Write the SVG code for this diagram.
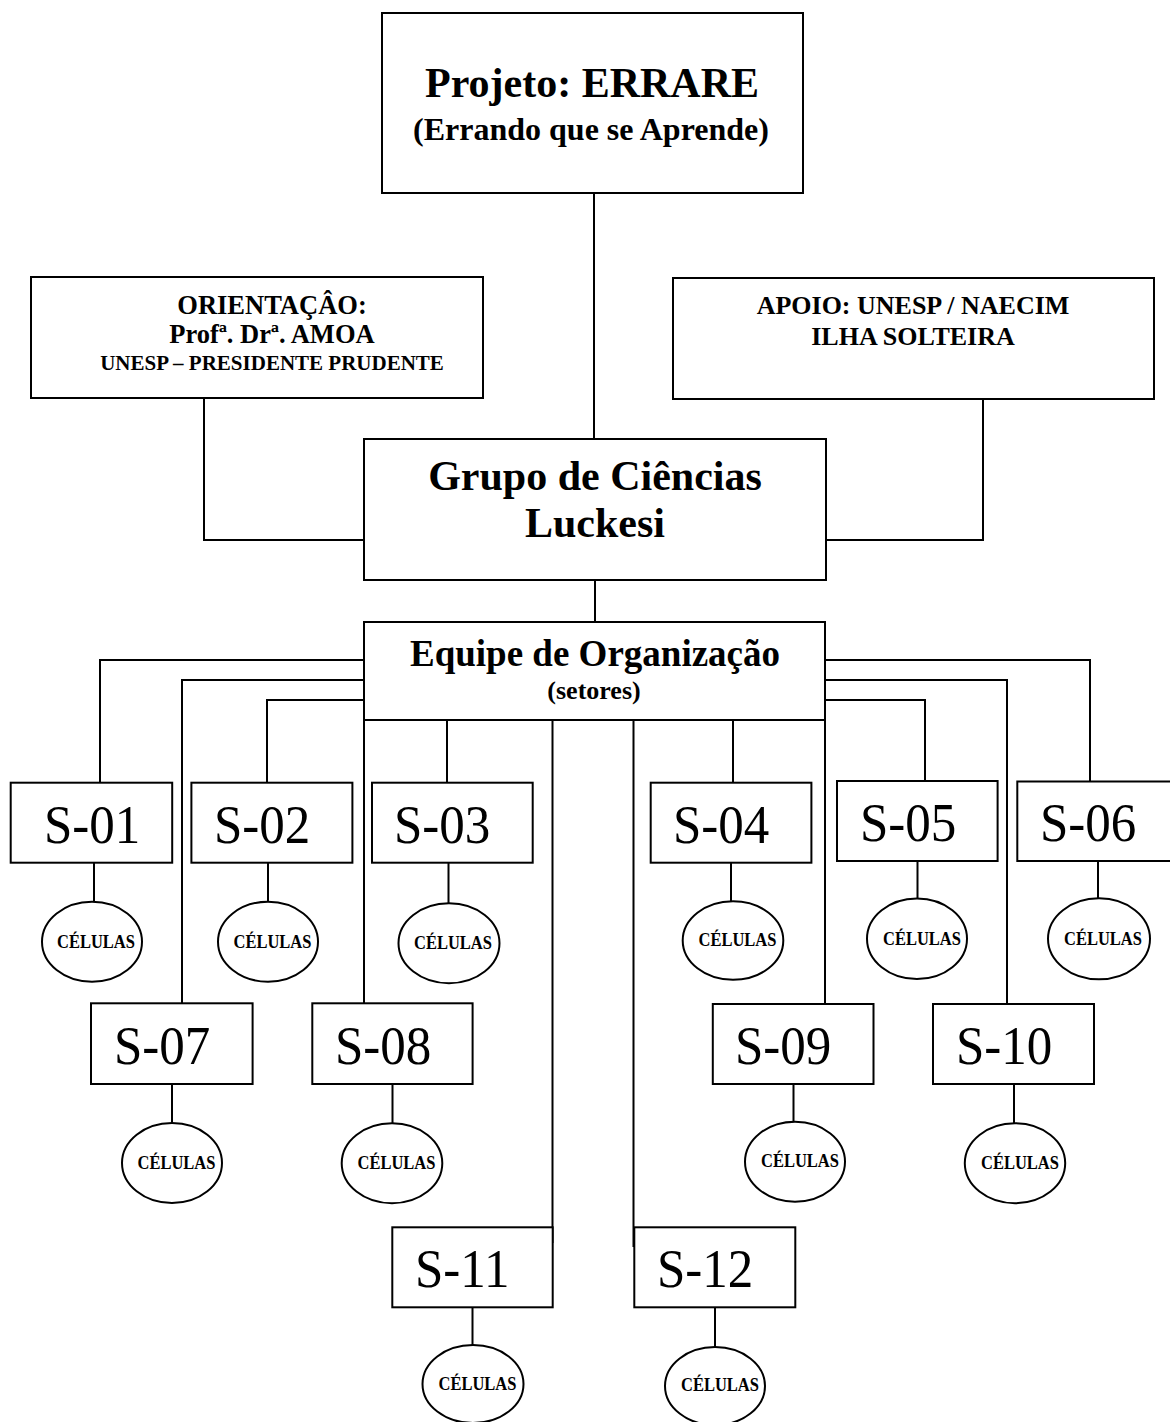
<svg xmlns="http://www.w3.org/2000/svg" width="1170" height="1422" viewBox="0 0 1170 1422">
<style>
.box{fill:#fff;stroke:#000;stroke-width:2}
.ell{fill:#fff;stroke:#000;stroke-width:2}
.ln{fill:none;stroke:#000;stroke-width:2}
.b{font-family:"Liberation Serif","Times New Roman",serif;font-weight:bold;fill:#000;text-anchor:middle}
.s{font-family:"Liberation Serif","Times New Roman",serif;font-size:51px;fill:#000}
.c{font-family:"Liberation Serif","Times New Roman",serif;font-weight:bold;font-size:16.5px;fill:#000;text-anchor:middle}
</style>
<rect width="1170" height="1422" fill="#fff"/>
<g id="connectors">
<path class="ln" d="M594,193 V439"/>
<path class="ln" d="M204,398 V540 H364"/>
<path class="ln" d="M983,399 V540 H826"/>
<path class="ln" d="M595,580 V622"/>
<path class="ln" d="M364,660 H100 V782"/>
<path class="ln" d="M364,680 H182 V1003"/>
<path class="ln" d="M367,700 H267 V782"/>
<path class="ln" d="M364,720 V1003"/>
<path class="ln" d="M447,720 V782"/>
<path class="ln" d="M552.5,720 V1243"/>
<path class="ln" d="M633.5,720 V1247"/>
<path class="ln" d="M733,720 V782"/>
<path class="ln" d="M825,720 V1004"/>
<path class="ln" d="M825,700 H925 V782"/>
<path class="ln" d="M825,680 H1007 V1004"/>
<path class="ln" d="M825,660 H1090 V782"/>
<path class="ln" d="M94,862 V902"/>
<path class="ln" d="M268,862 V902"/>
<path class="ln" d="M448.5,862 V903"/>
<path class="ln" d="M731,862 V901"/>
<path class="ln" d="M917.5,861 V899"/>
<path class="ln" d="M1098,861 V899"/>
<path class="ln" d="M172,1084 V1123"/>
<path class="ln" d="M392.5,1084 V1123"/>
<path class="ln" d="M793.5,1084 V1122"/>
<path class="ln" d="M1014,1084 V1123"/>
<path class="ln" d="M472.5,1307 V1345"/>
<path class="ln" d="M715,1307 V1347"/>
</g>
<g id="projeto">
<rect class="box" x="382" y="13" width="421" height="180"/>
<text class="b" x="592" y="97" font-size="42">Projeto: ERRARE</text>
<text class="b" x="591" y="139.5" font-size="32">(Errando que se Aprende)</text>
</g>
<g id="orientacao">
<rect class="box" x="31" y="277" width="452" height="121"/>
<text class="b" x="272" y="314" font-size="26.5">ORIENTAÇÂO:</text>
<text class="b" x="272" y="343" font-size="26.5">Profª. Drª. AMOA</text>
<text class="b" x="272" y="370" font-size="21">UNESP – PRESIDENTE PRUDENTE</text>
</g>
<g id="apoio">
<rect class="box" x="673" y="278" width="481" height="121"/>
<text class="b" x="913" y="314" font-size="26">APOIO: UNESP / NAECIM</text>
<text class="b" x="913" y="345" font-size="26">ILHA SOLTEIRA</text>
</g>
<g id="grupo">
<rect class="box" x="364" y="439" width="462" height="141"/>
<text class="b" x="595" y="490" font-size="42">Grupo de Ciências</text>
<text class="b" x="595" y="537" font-size="42">Luckesi</text>
</g>
<g id="equipe">
<rect class="box" x="364" y="622" width="461" height="98"/>
<text class="b" x="595" y="666" font-size="37">Equipe de Organização</text>
<text class="b" x="594" y="699" font-size="26">(setores)</text>
</g>
<g id="s01"><rect class="box" x="10.7" y="782.7" width="161.5" height="80"/><text class="s" transform="translate(44,843) scale(1,1.07)">S-01</text></g>
<g id="s02"><rect class="box" x="191.4" y="782.7" width="161" height="80"/><text class="s" transform="translate(214,843) scale(1,1.07)">S-02</text></g>
<g id="s03"><rect class="box" x="372" y="782.7" width="160.7" height="80"/><text class="s" transform="translate(394,843) scale(1,1.07)">S-03</text></g>
<g id="s04"><rect class="box" x="650.7" y="782.7" width="160.7" height="80"/><text class="s" transform="translate(673,843) scale(1,1.07)">S-04</text></g>
<g id="s05"><rect class="box" x="837" y="781" width="160.6" height="80"/><text class="s" transform="translate(860,841) scale(1,1.07)">S-05</text></g>
<g id="s06"><rect class="box" x="1017.3" y="781.5" width="161" height="79.5"/><text class="s" transform="translate(1040,841) scale(1,1.07)">S-06</text></g>
<g id="s07"><rect class="box" x="91" y="1003.3" width="161.6" height="80.7"/><text class="s" transform="translate(114,1064) scale(1,1.07)">S-07</text></g>
<g id="s08"><rect class="box" x="312.3" y="1003.3" width="160.3" height="80.7"/><text class="s" transform="translate(335,1064) scale(1,1.07)">S-08</text></g>
<g id="s09"><rect class="box" x="712.8" y="1004" width="160.7" height="80"/><text class="s" transform="translate(735,1064) scale(1,1.07)">S-09</text></g>
<g id="s10"><rect class="box" x="933" y="1004" width="161" height="80"/><text class="s" transform="translate(956,1064) scale(1,1.07)">S-10</text></g>
<g id="s11"><rect class="box" x="392.3" y="1227.3" width="160.4" height="80"/><text class="s" transform="translate(415,1287) scale(1,1.07)">S-11</text></g>
<g id="s12"><rect class="box" x="634.3" y="1227.3" width="161" height="80"/><text class="s" transform="translate(657,1287) scale(1,1.07)">S-12</text></g>
<g id="c01"><ellipse class="ell" cx="92" cy="941.7" rx="50" ry="40"/><text class="c" transform="translate(96,947.5) scale(1,1.08)">CÉLULAS</text></g>
<g id="c02"><ellipse class="ell" cx="268" cy="941.7" rx="50" ry="40"/><text class="c" transform="translate(272.5,947.5) scale(1,1.08)">CÉLULAS</text></g>
<g id="c03"><ellipse class="ell" cx="449" cy="943.3" rx="50.5" ry="40"/><text class="c" transform="translate(453,949) scale(1,1.08)">CÉLULAS</text></g>
<g id="c04"><ellipse class="ell" cx="733" cy="940.5" rx="50.3" ry="39.3"/><text class="c" transform="translate(737.5,946) scale(1,1.08)">CÉLULAS</text></g>
<g id="c05"><ellipse class="ell" cx="917" cy="938.7" rx="50" ry="40.3"/><text class="c" transform="translate(922,944.5) scale(1,1.08)">CÉLULAS</text></g>
<g id="c06"><ellipse class="ell" cx="1099" cy="938.8" rx="51" ry="40.5"/><text class="c" transform="translate(1103,944.5) scale(1,1.08)">CÉLULAS</text></g>
<g id="c07"><ellipse class="ell" cx="172" cy="1163" rx="50" ry="40"/><text class="c" transform="translate(176.5,1168.5) scale(1,1.08)">CÉLULAS</text></g>
<g id="c08"><ellipse class="ell" cx="392" cy="1163.3" rx="50.3" ry="40"/><text class="c" transform="translate(396.5,1168.5) scale(1,1.08)">CÉLULAS</text></g>
<g id="c09"><ellipse class="ell" cx="795" cy="1161.7" rx="50" ry="40"/><text class="c" transform="translate(800,1166.5) scale(1,1.08)">CÉLULAS</text></g>
<g id="c10"><ellipse class="ell" cx="1015" cy="1163.3" rx="50.2" ry="40"/><text class="c" transform="translate(1020,1168.5) scale(1,1.08)">CÉLULAS</text></g>
<g id="c11"><ellipse class="ell" cx="473" cy="1384" rx="50.5" ry="39"/><text class="c" transform="translate(477.5,1390) scale(1,1.08)">CÉLULAS</text></g>
<g id="c12"><ellipse class="ell" cx="715" cy="1386" rx="50" ry="39"/><text class="c" transform="translate(720,1391) scale(1,1.08)">CÉLULAS</text></g>
</svg>
